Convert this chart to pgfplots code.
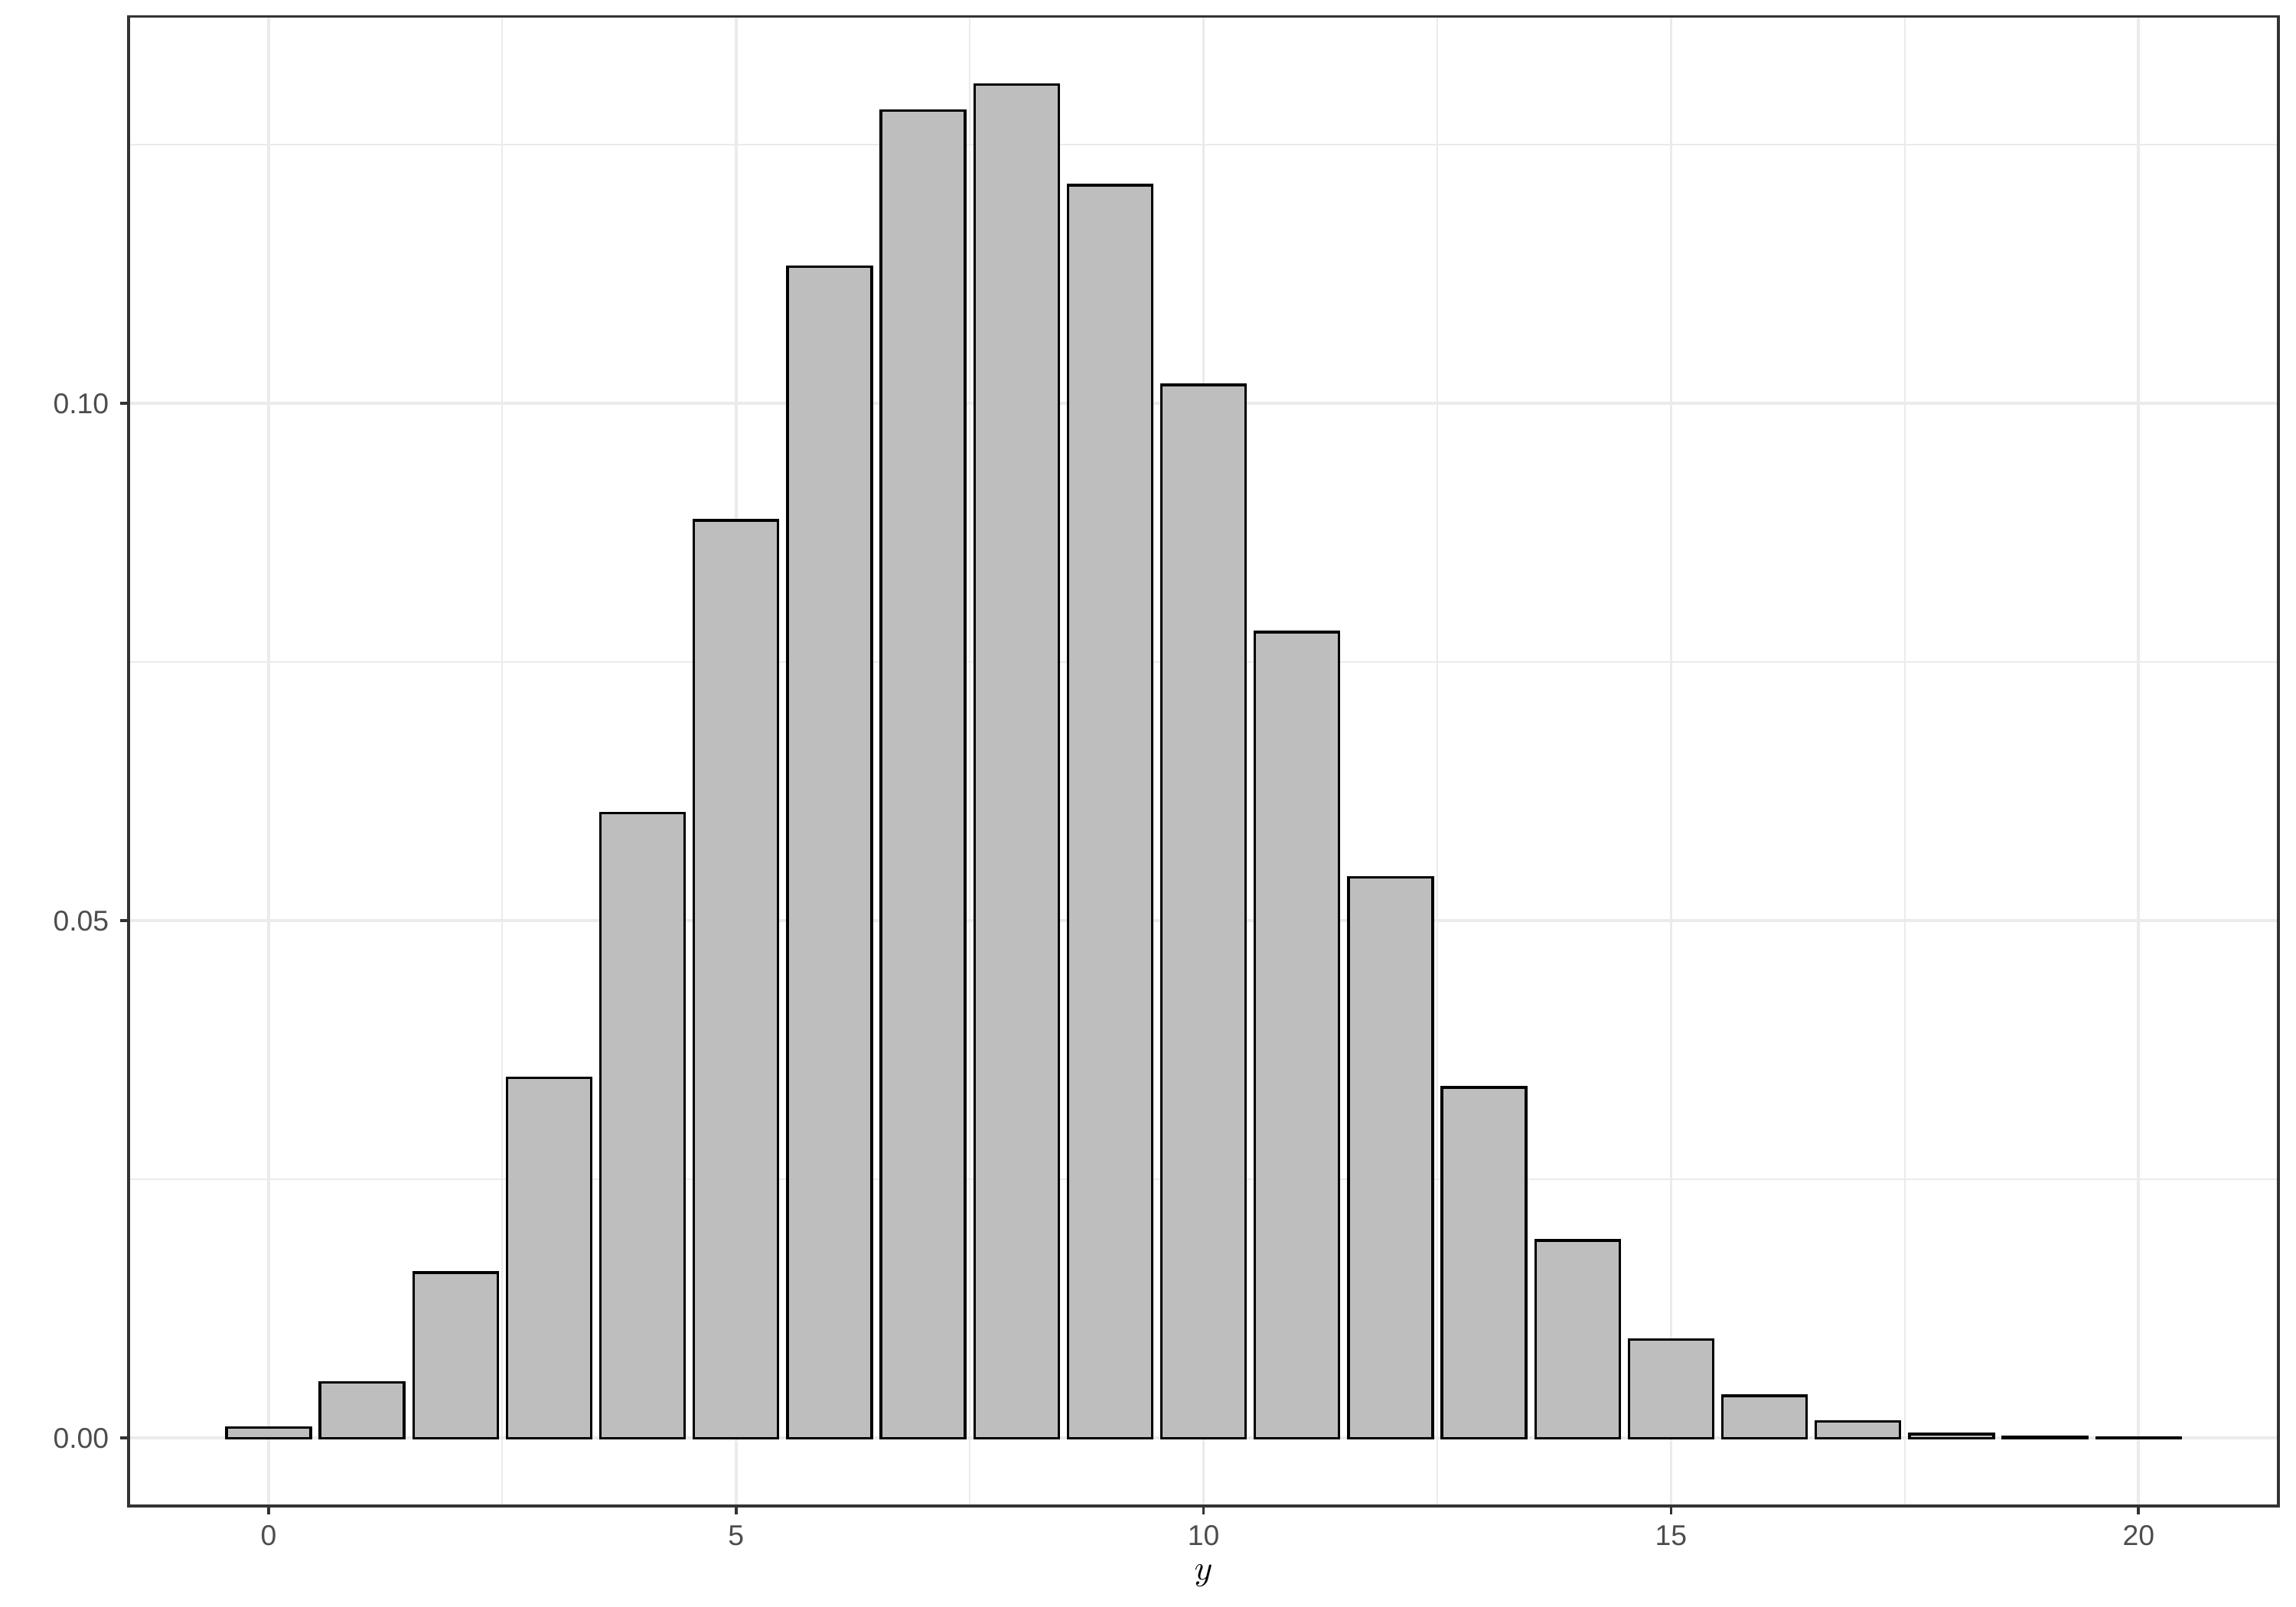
\documentclass[border=0pt]{standalone}
\usepackage{fontspec}
\setmainfont{Liberation Sans}
\usepackage{pgfplots}
\pgfplotsset{compat=1.18}
\usepackage{pgfplotstable}
\definecolor{barfill}{HTML}{BEBEBE}
\definecolor{gridc}{HTML}{EBEBEB}
\definecolor{frame}{HTML}{333333}
\definecolor{ticklab}{HTML}{4D4D4D}
\pgfplotstableread{
x y
0 0.0010
1 0.0054
2 0.0160
3 0.0348
4 0.0604
5 0.0887
6 0.1132
7 0.1283
8 0.1308
9 0.1211
10 0.1018
11 0.0779
12 0.0542
13 0.0339
14 0.0191
15 0.0095
16 0.0041
17 0.0016
18 0.0004
19 0.00015
20 0.00005
}\datatab
\begin{document}
\begin{tikzpicture}[x=1in,y=1in]
\useasboundingbox (0,0) rectangle (10,7);
\begin{axis}[
  at={(0.561in,0.441in)}, anchor=south west,
  scale only axis, width=9.362in, height=6.487in,
  xmin=-1.495, xmax=21.495,
  ymin=-0.00654, ymax=0.1374,
  axis line style={draw=frame, line width=0.9pt},
  xtick={0,5,10,15,20},
  ytick={0,0.05,0.10},
  minor xtick={2.5,7.5,12.5,17.5},
  minor ytick={0.025,0.075,0.125},
  yticklabel style={/pgf/number format/.cd, fixed, fixed zerofill, precision=2},
  /pgf/number format/assume math mode=true,
  tick label style={font=\fontsize{9}{10}\selectfont, color=ticklab},
  tick align=outside,
  major tick length=2.75pt,
  minor tick length=0pt,
  tick style={draw=frame, line width=0.9pt},
  xtick pos=bottom, ytick pos=left,
  grid=both,
  major grid style={draw=gridc, line width=0.9pt},
  minor grid style={draw=gridc, line width=0.5pt},
  xlabel={$y$},
  xlabel style={font=\fontsize{11}{13}\selectfont, yshift=1pt},
  axis on top=false,
]
\addplot[ybar, bar width=0.9, fill=barfill, draw=black, line width=0.8pt] table[x=x,y=y] {\datatab};
\end{axis}
\end{tikzpicture}
\end{document}
